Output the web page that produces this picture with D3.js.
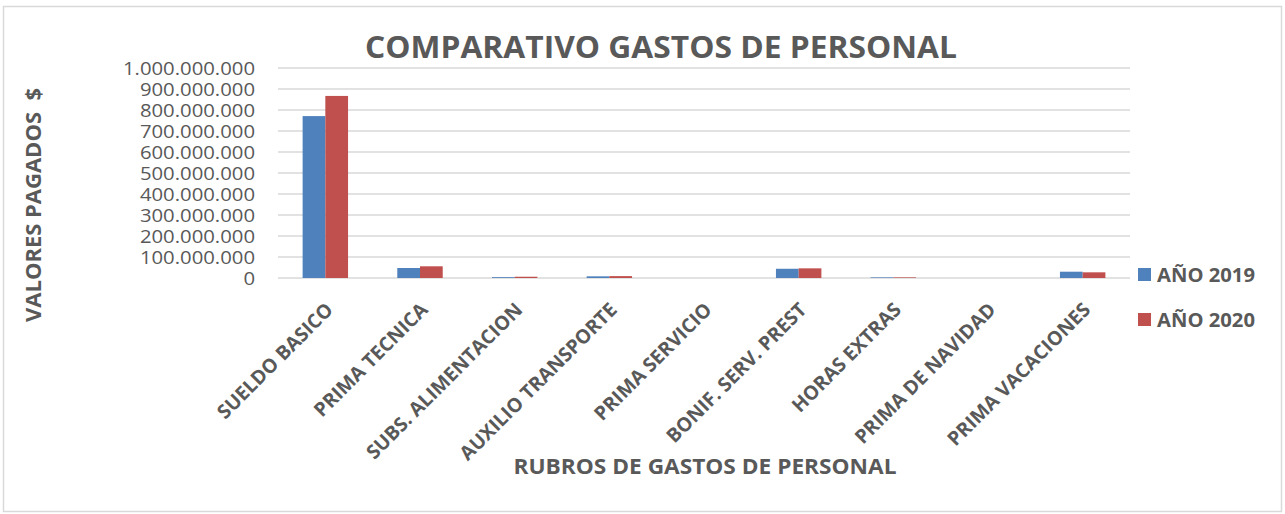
<!DOCTYPE html>
<html><head><meta charset="utf-8">
<script src="https://cdn.jsdelivr.net/npm/d3@7"></script>
<style>body{margin:0;background:#fff;} text{font-family:"Open Sans","Liberation Sans",sans-serif;fill:#595959;}</style>
</head><body>
<svg id="c" width="1285" height="514"></svg>
<script>
const categories = ["SUELDO BASICO","PRIMA TECNICA","SUBS. ALIMENTACION","AUXILIO TRANSPORTE","PRIMA SERVICIO","BONIF. SERV. PREST","HORAS EXTRAS","PRIMA DE NAVIDAD","PRIMA VACACIONES"];
const values2019 = [771000000, 47600000, 4000000, 8000000, 0, 44000000, 3000000, 0, 30000000];
const values2020 = [867000000, 55700000, 6000000, 9000000, 0, 46000000, 3000000, 0, 27000000];
const seriesNames = ["AÑO 2019","AÑO 2020"];
const seriesColors = ["#4f81bd","#c0504d"];
const yTicks = [0,100000000,200000000,300000000,400000000,500000000,600000000,700000000,800000000,900000000,1000000000];

const svg = d3.select("#c");
svg.append("rect").attr("x",3.5).attr("y",6.5).attr("width",1278).attr("height",505)
  .attr("fill","#fff").attr("stroke","#d9d9d9").attr("stroke-width",1.5);

const L=278,R=1130,T=68,B=278;
const x = d3.scaleBand().domain(categories).range([L,R]).paddingInner(0.52).paddingOuter(0.26);
const x1 = d3.scaleBand().domain(seriesNames).range([0,x.bandwidth()]);
const y = d3.scaleLinear().domain([0,1000000000]).range([B,T]);
const fmt = v => d3.format(",")(v).replace(/,/g,".");

// grid
svg.append("g").selectAll("line").data(yTicks).join("line")
  .attr("x1",L).attr("x2",R).attr("y1",d=>y(d)).attr("y2",d=>y(d))
  .attr("stroke","#d9d9d9").attr("stroke-width",1.5);

// y axis labels
const ya = svg.append("g").attr("transform",`translate(${L-23},0)`)
  .call(d3.axisLeft(y).tickValues(yTicks).tickFormat(fmt).tickSize(0).tickPadding(0));
ya.select(".domain").remove();
ya.selectAll("text").style("font-size","17.5px").attr("fill","#595959").attr("dy","0.36em")
  .each(function(){ const w=this.getComputedTextLength(); d3.select(this).attr("textLength",w*1.16).attr("lengthAdjust","spacingAndGlyphs"); });

// bars
const data = categories.map((c,i)=>({c, vals:[values2019[i],values2020[i]]}));
const g = svg.append("g");
data.forEach(d=>{
  d.vals.forEach((v,j)=>{
    g.append("rect").attr("x",x(d.c)+x1(seriesNames[j])).attr("width",x1.bandwidth())
      .attr("y",y(v)).attr("height",B-y(v)).attr("fill",seriesColors[j]);
  });
});

// x axis labels
const xa = svg.append("g").attr("transform",`translate(0,${B})`)
  .call(d3.axisBottom(x).tickSize(0).tickPadding(0));
xa.select(".domain").remove();
xa.selectAll("text").style("font-size","19.5px").style("font-weight","700").attr("fill","#595959")
  .attr("text-anchor","end").attr("dy",0).attr("y",0)
  .attr("transform","translate(9,33) rotate(-45)");

// title
svg.append("text").attr("x",661).attr("y",58).attr("text-anchor","middle")
  .style("font-size","31px").style("font-weight","700")
  .attr("textLength",592).attr("lengthAdjust","spacingAndGlyphs")
  .text("COMPARATIVO GASTOS DE PERSONAL");

// axis titles
svg.append("text").attr("transform","translate(41,205) rotate(-90)").attr("text-anchor","middle")
  .style("font-size","22px").style("font-weight","700").style("white-space","pre")
  .attr("textLength",234).attr("lengthAdjust","spacingAndGlyphs")
  .text("VALORES PAGADOS  $");
svg.append("text").attr("x",705).attr("y",474).attr("text-anchor","middle")
  .style("font-size","21px").style("font-weight","700").attr("textLength",383).attr("lengthAdjust","spacingAndGlyphs")
  .text("RUBROS DE GASTOS DE PERSONAL");

// legend
const lg = svg.append("g");
seriesNames.forEach((s,i)=>{
  const yy = 268 + i*45;
  lg.append("rect").attr("x",1138).attr("y",yy).attr("width",13).attr("height",13).attr("fill",seriesColors[i]);
  lg.append("text").attr("x",1157).attr("y",yy+14).style("font-size","20px").style("font-weight","700")
    .attr("textLength",98).attr("lengthAdjust","spacingAndGlyphs").text(s);
});
</script>
</body></html>
